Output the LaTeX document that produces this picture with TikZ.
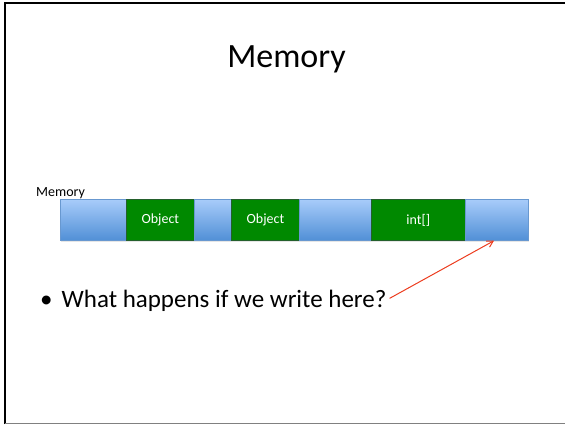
\documentclass[tikz,border=0pt]{standalone}
\usepackage{fontspec}
\setmainfont{Carlito}
\usetikzlibrary{arrows.meta,positioning,shadows}
\definecolor{celltop}{RGB}{168,204,250}
\definecolor{cellbot}{RGB}{80,143,214}
\definecolor{cellline}{RGB}{104,152,208}
\definecolor{objgreen}{RGB}{0,137,0}
\definecolor{objline}{RGB}{36,96,44}
\definecolor{pointer}{RGB}{236,60,30}
\tikzset{
  free/.style={draw=cellline,line width=0.8pt,top color=celltop,bottom color=cellbot,
    minimum height=41.5pt,inner sep=0pt,outer sep=0pt,
    drop shadow={opacity=0.2,shadow xshift=0.8pt,shadow yshift=-1.2pt}},
  obj/.style={draw=objline,line width=0.8pt,fill=objgreen,text=white,
    font=\fontsize{14}{16}\selectfont,minimum height=41.5pt,inner sep=0pt,outer sep=0pt,
    drop shadow={opacity=0.2,shadow xshift=0.8pt,shadow yshift=-1.2pt}},
  arr/.style={-{Straight Barb[length=6pt,width=7pt]},line width=1pt,pointer},
}

\begin{document}
\begin{tikzpicture}[x=1pt,y=-1pt]
  \useasboundingbox (0,0) rectangle (565,424);
  % slide frame
  \draw[line width=1.6pt] (5,424) -- (5,3) -- (565,3);
  \draw[gray,line width=1pt] (5,423.5) -- (565,423.5);

  \node[font=\fontsize{34}{38}\selectfont,anchor=base] (title) at (286.5,67) {Memory};

  % memory bar
  \node[font=\fontsize{14}{16}\selectfont,anchor=base west,inner sep=0pt] (lbl) at (36,196.5) {Memory};
  \node[free,minimum width=66.7pt,anchor=north west] (m1) at (60,199.2) {};
  \node[obj,minimum width=67.3pt,right=0pt of m1] (o1) {Object};
  \node[free,minimum width=37.7pt,right=0pt of o1] (m2) {};
  \node[obj,minimum width=67.6pt,right=0pt of m2] (o2) {Object};
  \node[free,minimum width=71.7pt,right=0pt of o2] (m3) {};
  \node[obj,minimum width=94.7pt,right=0pt of m3] (o3) {int[]};
  \node[free,minimum width=62.6pt,right=0pt of o3] (m4) {};

  % question
  \node[font=\fontsize{25}{29}\selectfont,anchor=base west,inner sep=0pt] (q) at (40,307)
    {\textbullet\hspace{9pt}What happens if we write here?};
  \coordinate (hit) at ([xshift=-3pt]m4.south);
  \draw[arr] ([xshift=3pt,yshift=2pt]q.east) -- (hit);
\end{tikzpicture}
\end{document}
